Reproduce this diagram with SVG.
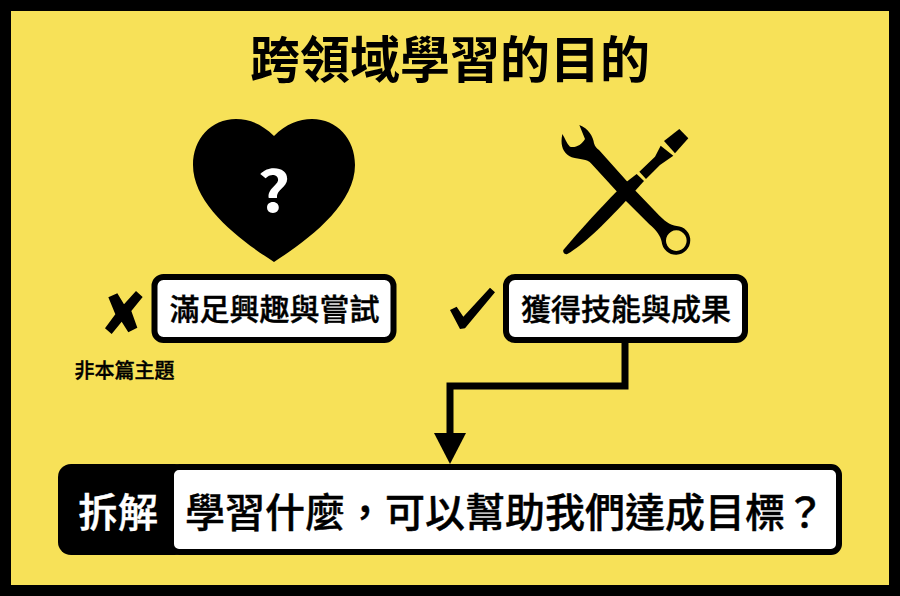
<svg xmlns="http://www.w3.org/2000/svg" width="900" height="596" viewBox="0 0 900 596">
<style>
text{font-family:"Noto Sans CJK TC","Noto Sans CJK SC",sans-serif;font-weight:500;text-anchor:middle;fill:#000}
.lbl{stroke:#000;stroke-width:.4}
.box{fill:#fff;stroke:#000;stroke-width:6}
</style>
<rect width="900" height="596" fill="#000"/>
<rect x="11" y="11" width="878" height="574" fill="#f7e158"/>
<g id="title"><text x="450" y="78" font-size="50" style="font-weight:700">跨領域學習的目的</text></g>
<g id="heart">
<path d="M274 136C262 124 249 119 236 119C211 119 193 139 193 165C193 205 240 240 274 262C308 240 355 205 355 165C355 139 337 119 312 119C299 119 286 124 274 136Z" fill="#000"/>
<text transform="translate(274 212) scale(1.12 1)" font-size="57" style="fill:#fff;font-weight:700">?</text>
</g>
<g id="tools" fill="#000" transform="translate(540 115) scale(.33333)">
<path fill-rule="evenodd" d="M67 57C60 90 68 115 95 127C120 135 140 130 155 147L232 231L258 258L328 328C350 345 362 365 365 380A43 43 0 1 0 410 333C390 330 375 320 347 290L285 226L177 105C170 100 165 95 162 85C160 65 145 40 118 30L135 72C125 90 105 100 90 95C80 85 75 70 67 57ZM409 346A31 31 0 1 1 408.900 346Z"/>
<path d="M70 405C68 412 74 420 82 417C130 390 190 330 260 255L285 228L312 198L290 177L260 200L232 227C180 280 120 345 70 405Z"/>
<path d="M298 170L345 125L362 92L400 122L360 150L318 192Z"/>
<path d="M372 78L418 42L445 70L405 115Z"/>
</g>
<g id="cross" transform="translate(60 265) scale(.33333)">
<path d="M145 97L172 85L192 118L228 78L248 96L214 138L232 188L205 202L185 170L155 207L135 190L166 148Z" fill="#000"/>
</g>
<g id="check" transform="translate(430 265) scale(.33333)">
<path d="M60 135L80 125L100 155L180 68L195 82L105 190L90 192Z" fill="#000"/>
</g>
<g id="left-label">
<rect class="box" x="154.500" y="277" width="239" height="63" rx="9"/>
<text class="lbl" x="274.500" y="320" font-size="30">滿足興趣與嘗試</text>
</g>
<g id="right-label">
<rect class="box" x="506" y="277" width="239" height="63" rx="9"/>
<text class="lbl" x="626" y="320" font-size="30">獲得技能與成果</text>
</g>
<g id="note"><text class="lbl" x="124.500" y="378" font-size="20">非本篇主題</text></g>
<g id="connectors">
<path d="M625 343V386H450V434" fill="none" stroke="#000" stroke-width="7"/>
<path d="M434 433H466L450 464Z" fill="#000"/>
</g>
<g id="question">
<rect x="58" y="464" width="130" height="91" rx="13" fill="#000"/>
<rect class="box" x="171" y="467" width="668" height="85" rx="8"/>
<text x="118" y="527" font-size="40" style="fill:#fff;stroke:#fff;stroke-width:.4">拆解</text>
<text class="lbl" x="505" y="527" font-size="40">學習什麼，可以幫助我們達成目標？</text>
</g>
</svg>
